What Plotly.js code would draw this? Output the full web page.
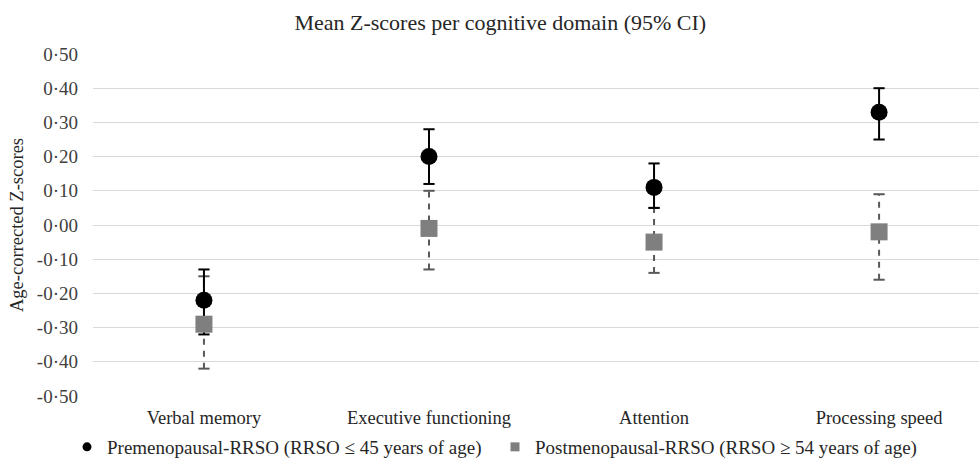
<!DOCTYPE html>
<html><head><meta charset="utf-8">
<script src="https://cdn.plot.ly/plotly-3.0.1.min.js"></script>
<style>html,body{margin:0;padding:0;background:#fff}#chart{width:979px;height:458px}</style>
</head><body><div id="chart"></div>
<script>
const categories = ["Verbal memory", "Executive functioning", "Attention", "Processing speed"];
const preMean = [-0.22, 0.20, 0.11, 0.33];
const preLow  = [-0.32, 0.12, 0.05, 0.25];
const preHigh = [-0.13, 0.28, 0.18, 0.40];
const postMean = [-0.29, -0.01, -0.05, -0.02];
const postLow  = [-0.42, -0.13, -0.14, -0.16];
const postHigh = [-0.15, 0.10, 0.05, 0.09];
const tickVals = [0.5, 0.4, 0.3, 0.2, 0.1, 0, -0.1, -0.2, -0.3, -0.4, -0.5];
const tickText = ["0·50","0·40","0·30","0·20","0·10","0·00","-0·10","-0·20","-0·30","-0·40","-0·50"];
const preName = "Premenopausal-RRSO (RRSO ≤ 45 years of age)";
const postName = "Postmenopausal-RRSO (RRSO ≥ 54 years of age)";

function stems(lo, hi) {
  const x = [], y = [];
  categories.forEach((c, i) => { x.push(c, c, null); y.push(lo[i], hi[i], null); });
  return {x, y};
}
function caps(lo, hi) {
  const x = [], y = [];
  categories.forEach((c, i) => { x.push(c, c); y.push(lo[i], hi[i]); });
  return {x, y};
}
const preS = stems(preLow, preHigh), postS = stems(postLow, postHigh);
const preC = caps(preLow, preHigh), postC = caps(postLow, postHigh);
const black = "#000000", grey = "#7f7f7f", dashGrey = "#595959";

const traces = [
  {x: postS.x, y: postS.y, mode: "lines", line: {color: dashGrey, width: 2, dash: "6px,6px"}, showlegend: false, hoverinfo: "skip"},
  {x: postC.x, y: postC.y, mode: "markers", marker: {symbol: "line-ew", size: 8, line: {color: dashGrey, width: 2}}, showlegend: false, hoverinfo: "skip"},
  {x: preS.x, y: preS.y, mode: "lines", line: {color: black, width: 2}, showlegend: false, hoverinfo: "skip"},
  {x: preC.x, y: preC.y, mode: "markers", marker: {symbol: "line-ew", size: 8, line: {color: black, width: 2}}, showlegend: false, hoverinfo: "skip"},
  {x: categories, y: preMean, name: preName, mode: "markers", marker: {symbol: "circle", size: 17, color: black}, showlegend: false},
  {x: categories, y: postMean, name: postName, mode: "markers", marker: {symbol: "square", size: 17, color: grey}, showlegend: false},
  {x: [null], y: [null], name: preName, mode: "markers", marker: {symbol: "circle", size: 9, color: black}, legend: "legend", showlegend: true},
  {x: [null], y: [null], name: postName, mode: "markers", marker: {symbol: "square", size: 9, color: grey}, legend: "legend2", showlegend: true}
];

const legendFont = {family: "Liberation Serif, Times New Roman, serif", size: 19, color: "#262626"};
const layout = {
  width: 979, height: 458,
  margin: {l: 93, r: 0, t: 54, b: 62},
  paper_bgcolor: "#fff", plot_bgcolor: "#fff",
  font: {family: "Liberation Serif, Times New Roman, serif", size: 18, color: "#404040"},
  title: {text: "Mean Z-scores per cognitive domain (95% CI)", x: 0.511, xref: "container", xanchor: "center", y: 1 - 22 / 458, yref: "container", yanchor: "middle", font: {size: 22, color: "#262626"}},
  xaxis: {type: "category", range: [-0.493, 3.444], showgrid: false, zeroline: false, showline: false, ticks: "", ticklabelstandoff: 8, tickfont: {size: 18.5, color: "#262626"}, fixedrange: true, automargin: false},
  yaxis: {range: [-0.5, 0.5], tickvals: tickVals, ticktext: tickText, showgrid: true, gridcolor: "#d9d9d9", gridwidth: 1, zeroline: false, showline: false, ticks: "", ticklabelstandoff: 14, automargin: false,
          tickfont: {size: 19, color: "#404040"},
          title: {text: "Age-corrected Z-scores", font: {size: 18.5, color: "#262626"}, standoff: 8}},
  showlegend: true,
  legend: {orientation: "h", xref: "container", x: 67 / 979, xanchor: "left", yref: "container", y: 1 - 447 / 458, yanchor: "middle", font: legendFont, bgcolor: "rgba(0,0,0,0)"},
  legend2: {orientation: "h", xref: "container", x: 495 / 979, xanchor: "left", yref: "container", y: 1 - 447 / 458, yanchor: "middle", font: legendFont, bgcolor: "rgba(0,0,0,0)"}
};
Plotly.newPlot("chart", traces, layout, {displayModeBar: false, staticPlot: true});
</script></body></html>
